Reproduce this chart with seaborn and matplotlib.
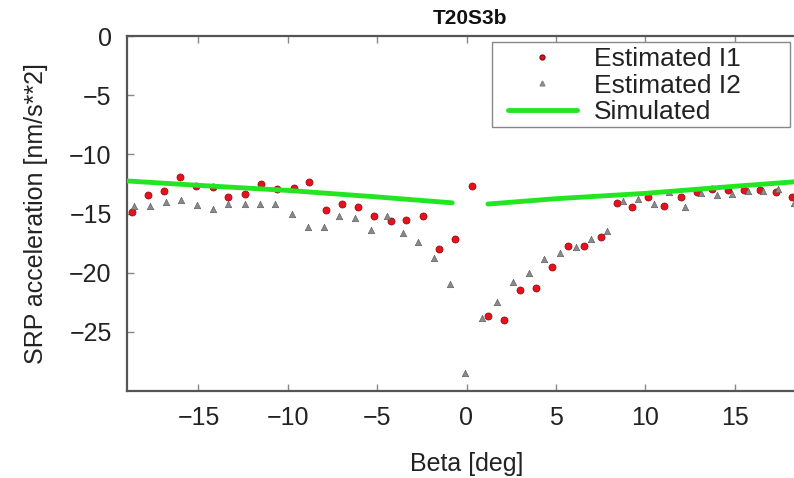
import numpy as np
import pandas as pd
import matplotlib
matplotlib.use("Agg")
import matplotlib.pyplot as plt
import seaborn as sns
from matplotlib.lines import Line2D
from matplotlib.patches import Rectangle

# values
beta_i1 = [-18.73, -17.81, -16.92, -16.02, -15.13, -14.18, -13.32, -12.41, -11.49, -10.58,
           -9.68, -8.79, -7.87, -6.98, -6.06, -5.15, -4.25, -3.36, -2.45, -1.53, -0.62,
           0.30, 1.19, 2.11, 3.00, 3.90, 4.81, 5.69, 6.60, 7.50, 8.41, 9.29, 10.18, 11.08,
           11.99, 12.89, 13.75, 14.66, 15.54, 16.41, 17.31, 18.20]
acc_i1 = [-14.89, -13.43, -13.06, -11.93, -12.64, -12.75, -13.63, -13.32, -12.53, -12.92,
          -12.86, -12.36, -14.72, -14.16, -14.47, -15.20, -15.63, -15.51, -15.17, -17.96, -17.15,
          -12.66, -23.62, -23.96, -21.50, -21.26, -19.52, -17.74, -17.74, -16.95, -14.08, -14.41,
          -13.57, -14.39, -13.60, -13.20, -12.95, -12.98, -13.00, -13.00, -13.15, -13.57]

beta_i2 = [-18.63, -17.74, -16.84, -15.95, -15.07, -14.17, -13.32, -12.41, -11.53, -10.69,
           -9.79, -8.88, -8.00, -7.11, -6.23, -5.35, -4.46, -3.56, -2.69, -1.83, -0.93,
           -0.06, 0.84, 1.73, 2.61, 3.49, 4.36, 5.24, 6.12, 6.99, 7.87, 8.75, 9.62, 10.50,
           11.36, 12.25, 13.13, 14.00, 14.87, 15.74, 16.58, 17.46, 18.32]
acc_i2 = [-14.33, -14.33, -13.99, -13.85, -14.30, -14.58, -14.19, -14.16, -14.19, -14.19,
          -15.00, -16.10, -16.16, -15.20, -15.34, -16.39, -15.17, -16.61, -17.40, -18.78, -20.97,
          -28.46, -23.87, -22.47, -20.80, -19.99, -18.85, -18.30, -17.87, -17.16, -16.50, -13.91,
          -13.76, -14.22, -13.20, -14.47, -13.29, -13.46, -13.35, -13.09, -13.07, -12.95, -14.13]

beta_sim = [-19.0, -15.0, -10.0, -5.0, -0.8, 1.2, 5.0, 10.0, 15.0, 19.0]
acc_sim = [-12.25, -12.62, -13.05, -13.60, -14.10, -14.20, -13.75, -13.30, -12.70, -12.25]
branch_sim = ["neg"] * 5 + ["pos"] * 5

sns.set_theme(style="ticks")
plt.rcParams["font.family"] = ["Liberation Sans", "DejaVu Sans"]

fig = plt.figure(figsize=(7.94, 4.78), dpi=100)
ax = fig.add_axes([127 / 794, 1 - 391 / 478, (806 - 127) / 794, (391 - 36) / 478])

d1 = pd.DataFrame({"beta": beta_i1, "acc": acc_i1})
d2 = pd.DataFrame({"beta": beta_i2, "acc": acc_i2})
ds = pd.DataFrame({"beta": beta_sim, "acc": acc_sim, "branch": branch_sim})

red = "#e8101c"
grey = "#8a8a8a"
green = "#22e622"

sns.scatterplot(data=d2, x="beta", y="acc", marker="^", s=22, color=grey,
                edgecolor="#555555", linewidth=0.4, ax=ax, zorder=3)
sns.scatterplot(data=d1, x="beta", y="acc", marker="o", s=26, color=red,
                edgecolor="#8a0a10", linewidth=0.5, ax=ax, zorder=2)
sns.lineplot(data=ds, x="beta", y="acc", units="branch", estimator=None,
             color=green, linewidth=3.5, ax=ax, zorder=4)

ax.set_xlim(-19, 19)
ax.set_ylim(-30, 0)
ax.set_xticks([-15, -10, -5, 0, 5, 10, 15])
ax.set_yticks([0, -5, -10, -15, -20, -25])
ax.tick_params(direction="in", length=5, width=1, color="#888888", labelsize=18,
               pad=11, top=True, right=True, labelcolor="#222222")
for s in ax.spines.values():
    s.set_color("#555555")
    s.set_linewidth(1.6)

ax.set_xlabel("Beta [deg]", fontsize=18, color="#222222")
ax.set_ylabel("SRP acceleration [nm/s**2]", fontsize=18, color="#222222")
ax.xaxis.set_label_coords((467 - 127) / 679, (391 - 452) / 355)
ax.yaxis.set_label_coords((48 - 127) / 679, 0.5)

fig.text(470 / 794, 1 - 18 / 478, "T20S3b", fontsize=15, fontweight="bold",
         ha="center", va="center", color="#111111")

# legend box drawn on its own, entries placed inside without a frame
fig.patches.append(Rectangle((492 / 794, 1 - 127 / 478), (790 - 492) / 794, (127 - 42) / 478,
                             transform=fig.transFigure, facecolor="white",
                             edgecolor="#888888", linewidth=1.0, zorder=5))
handles = [
    Line2D([], [], linestyle="none", marker="o", markersize=3.5, color=red,
           markeredgecolor="#8a0a10"),
    Line2D([], [], linestyle="none", marker="^", markersize=3.5, color=grey),
    Line2D([], [], color=green, linewidth=3.5),
]
leg = fig.legend(handles, ["Estimated I1", "Estimated I2", "Simulated"],
                 loc="upper left", bbox_to_anchor=(508 / 794, 1 - 47 / 478),
                 fontsize=19, frameon=False, borderpad=0, labelspacing=0.1,
                 handlelength=2.6, handletextpad=0.65, borderaxespad=0)
leg.set_zorder(6)
for t in leg.get_texts():
    t.set_color("#222222")

fig.savefig("out.png", dpi=100)
